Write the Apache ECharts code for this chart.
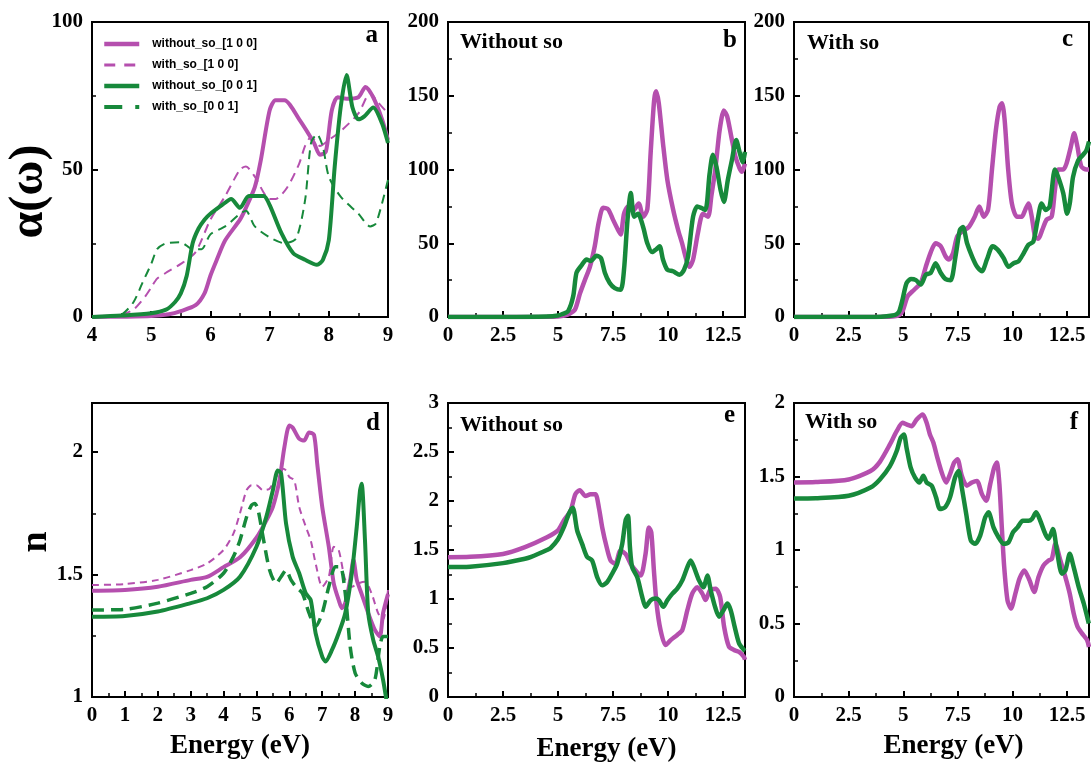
<!DOCTYPE html>
<html><head><meta charset="utf-8">
<script src="https://cdn.jsdelivr.net/npm/echarts@6/dist/echarts.min.js"></script>
<style>html,body{margin:0;padding:0;background:#fff}#c{width:1091px;height:764px}</style>
</head><body><div id="c"></div>
<script>
// ---------- Panel a : absorption 4-9 eV ----------
const a_wo100=[[4,0],[4.5,0.1],[5,0.3],[5.3,0.9],[5.5,2],[5.75,4],[5.9,8],[6.0,14],[6.1,19],[6.25,26],[6.5,33],[6.6,37],[6.75,44],[6.85,53],[7.0,70],[7.1,73.5],[7.25,73.5],[7.5,67],[7.75,59],[7.85,55],[7.95,56],[8.05,70],[8.15,74.5],[8.3,74],[8.5,74.5],[8.62,78],[8.75,74.5],[8.9,67],[9.0,60]];
const a_ws100=[[4,0],[4.3,0.2],[4.5,0.8],[4.7,2.5],[4.9,7],[5.0,10],[5.1,13],[5.25,15],[5.5,18],[5.75,22],[6.0,33],[6.25,41],[6.5,50],[6.6,51],[6.75,47.6],[7.0,40],[7.1,40],[7.3,44],[7.5,52],[7.6,58],[7.7,61],[7.85,58],[8.0,60],[8.2,63],[8.5,69],[8.7,76],[8.8,73.5],[9.0,69]];
const a_wo001=[[4,0],[4.5,0.5],[5,1.3],[5.25,2.5],[5.4,5],[5.5,8],[5.6,14],[5.7,25],[5.8,30],[5.9,33],[6.0,35],[6.2,38],[6.35,40],[6.5,37],[6.65,41],[6.9,41],[7.0,38],[7.2,28.4],[7.4,21.6],[7.6,19.4],[7.8,17.7],[7.9,19.4],[8.0,26],[8.1,51],[8.2,71],[8.3,82],[8.4,71],[8.5,67],[8.6,68],[8.75,71],[8.9,65.6],[9,59]];
const a_ws001=[[4,0],[4.3,0.2],[4.5,0.8],[4.7,5],[4.85,11.5],[5.0,18],[5.1,23],[5.25,25],[5.5,25.3],[5.7,23],[5.85,23],[6.0,28],[6.25,30.7],[6.5,35],[6.6,36],[6.75,30.7],[7.0,27],[7.25,25],[7.45,26.7],[7.6,39.7],[7.7,59],[7.8,62],[7.9,57.7],[8.0,47.6],[8.2,40.8],[8.5,35],[8.7,30.7],[8.8,31.8],[9.0,46.5]];
// ---------- Panel b : absorption without so ----------
const b_wo100=[[0,0],[2.5,0],[4.5,0.1],[5.0,0.3],[5.3,0.9],[5.5,2],[5.77,5],[6.0,16],[6.22,25],[6.45,34],[6.67,48],[6.85,64],[7.05,74],[7.28,73],[7.5,66],[7.73,59],[7.85,56],[8.0,70],[8.19,75],[8.41,72],[8.67,77],[8.87,68],[9.06,73],[9.21,111],[9.37,147],[9.46,153],[9.58,145],[9.77,118],[9.97,93],[10.23,73],[10.46,59],[10.64,50],[10.83,39],[10.98,34],[11.14,39],[11.36,57],[11.59,70],[11.82,68],[11.97,82],[12.15,100],[12.35,127],[12.54,140],[12.69,136],[12.88,122],[13.06,109],[13.25,101],[13.36,98.5],[13.5,104]];
const b_wo001=[[0,0],[2.5,0],[4.5,0.3],[5.0,1],[5.2,2],[5.46,4],[5.69,14],[5.84,30],[6.07,35],[6.3,39],[6.49,38],[6.75,41.5],[6.95,40],[7.13,30],[7.35,23],[7.58,19.6],[7.85,18.5],[8.0,32],[8.16,66],[8.31,84],[8.46,68],[8.64,70],[8.87,61],[9.06,50],[9.28,44],[9.47,46],[9.62,48],[9.77,39],[9.97,32],[10.23,31],[10.53,28.6],[10.73,32],[10.91,41],[11.14,68],[11.33,75],[11.51,74],[11.7,72.6],[11.89,97],[12.04,110],[12.2,102],[12.39,86],[12.54,78],[12.72,93],[12.9,106],[13.1,120],[13.25,112],[13.4,105],[13.5,112]];
// ---------- Panel c : absorption with so ----------
const c_ws100=[[0,0],[2.5,0],[4.0,0.1],[4.6,0.5],[4.82,1.5],[4.97,4],[5.2,14],[5.5,18.5],[5.8,23],[6.03,34],[6.26,44],[6.48,50],[6.71,48],[6.94,41],[7.09,39],[7.27,43],[7.47,54.6],[7.7,58],[8.0,61],[8.27,68],[8.48,75],[8.68,68],[8.88,72.6],[9.06,100],[9.24,127],[9.41,142.5],[9.52,145],[9.64,133.5],[9.79,102],[9.97,77],[10.2,68],[10.42,68],[10.58,72.6],[10.73,77],[10.88,68],[11.03,54.6],[11.18,53],[11.36,59],[11.56,66],[11.79,68],[11.94,86],[12.09,100],[12.32,100],[12.47,104],[12.67,115.5],[12.82,124.5],[12.97,115.5],[13.15,102],[13.38,100],[13.5,100]];
const c_ws001=[[0,0],[2.5,0],[4.0,0.2],[4.5,1],[4.7,2],[4.82,4],[4.97,12],[5.15,23],[5.35,25.7],[5.58,25],[5.8,22],[6.03,28.6],[6.26,30],[6.48,36.5],[6.71,30],[6.94,25.7],[7.17,25],[7.39,41],[7.59,59],[7.73,61],[7.92,50],[8.15,41],[8.38,34],[8.6,31],[8.83,39],[9.09,48],[9.33,45.5],[9.59,40],[9.82,34],[10.05,36.5],[10.27,37.7],[10.5,43],[10.73,49],[10.95,51],[11.15,66],[11.33,77],[11.52,72.6],[11.7,75],[11.94,100],[12.09,95],[12.32,84],[12.5,70],[12.62,77],[12.77,95],[13.0,106],[13.23,110],[13.38,113],[13.5,119]];
// ---------- Panel d : refractive index 0-9 eV ----------
const d_wo100=[[0,1.434],[1,1.437],[2,1.45],[3,1.478],[3.5,1.49],[4,1.53],[4.5,1.57],[5,1.65],[5.3,1.72],[5.5,1.776],[5.7,1.885],[5.85,2.02],[6.0,2.108],[6.1,2.10],[6.3,2.054],[6.45,2.047],[6.6,2.08],[6.75,2.07],[6.85,1.95],[7.0,1.776],[7.2,1.613],[7.35,1.464],[7.5,1.396],[7.6,1.362],[7.7,1.383],[7.85,1.478],[7.95,1.56],[8.05,1.478],[8.2,1.42],[8.4,1.342],[8.6,1.274],[8.75,1.247],[8.85,1.342],[9,1.42]];
const d_ws100=[[0,1.457],[1,1.461],[2,1.478],[3,1.518],[3.5,1.545],[4,1.60],[4.3,1.667],[4.5,1.75],[4.7,1.844],[4.85,1.864],[5.0,1.864],[5.2,1.844],[5.4,1.85],[5.6,1.898],[5.8,1.932],[5.9,1.925],[6.0,1.898],[6.15,1.885],[6.3,1.776],[6.5,1.695],[6.65,1.64],[6.8,1.545],[7.0,1.45],[7.2,1.49],[7.35,1.613],[7.5,1.60],[7.7,1.478],[7.9,1.45],[8.1,1.464],[8.3,1.47],[8.5,1.423],[8.7,1.342],[8.85,1.315],[9.0,1.437]];
const d_wo001=[[0,1.328],[1,1.331],[2,1.349],[3,1.383],[3.5,1.403],[4,1.437],[4.5,1.491],[5,1.613],[5.3,1.735],[5.5,1.844],[5.65,1.925],[5.75,1.912],[5.9,1.708],[6.1,1.573],[6.3,1.505],[6.5,1.423],[6.65,1.396],[6.8,1.26],[7.0,1.165],[7.1,1.145],[7.3,1.193],[7.5,1.26],[7.7,1.342],[7.9,1.505],[8.05,1.695],[8.15,1.844],[8.2,1.87],[8.3,1.64],[8.4,1.342],[8.55,1.233],[8.7,1.165],[8.85,1.07],[8.95,0.99]];
const d_ws001=[[0,1.355],[1,1.358],[2,1.383],[3,1.423],[3.5,1.45],[4,1.505],[4.3,1.573],[4.5,1.64],[4.7,1.735],[4.85,1.783],[4.95,1.79],[5.05,1.763],[5.2,1.654],[5.4,1.518],[5.6,1.464],[5.75,1.491],[5.9,1.518],[6.05,1.478],[6.2,1.45],[6.4,1.423],[6.6,1.342],[6.8,1.288],[7.0,1.342],[7.2,1.45],[7.4,1.532],[7.55,1.532],[7.7,1.423],[7.85,1.206],[8.0,1.098],[8.2,1.057],[8.4,1.043],[8.6,1.07],[8.75,1.206],[8.85,1.247],[9.0,1.247]];
// ---------- Panel e : refractive index without so ----------
const e_wo100=[[0,1.427],[1,1.43],[2.5,1.46],[3.5,1.53],[4.5,1.63],[5,1.70],[5.26,1.80],[5.57,1.90],[5.79,2.07],[5.99,2.11],[6.25,2.05],[6.48,2.07],[6.7,2.07],[6.86,1.93],[7.01,1.73],[7.21,1.53],[7.39,1.393],[7.61,1.36],[7.84,1.495],[8.07,1.46],[8.3,1.36],[8.53,1.29],[8.76,1.24],[8.98,1.46],[9.13,1.73],[9.24,1.68],[9.36,1.29],[9.48,0.954],[9.66,0.683],[9.89,0.53],[10.12,0.58],[10.42,0.633],[10.65,0.683],[10.88,0.886],[11.1,1.055],[11.33,1.12],[11.56,1.055],[11.71,0.99],[11.91,1.09],[12.17,1.105],[12.37,1.02],[12.55,0.717],[12.77,0.514],[13.0,0.48],[13.23,0.46],[13.45,0.41],[13.5,0.38]];
const e_wo001=[[0,1.326],[1,1.33],[2.5,1.366],[3.5,1.41],[3.75,1.427],[4.5,1.5],[4.66,1.52],[5.0,1.61],[5.26,1.73],[5.49,1.867],[5.67,1.93],[5.87,1.70],[6.1,1.56],[6.32,1.43],[6.55,1.393],[6.78,1.224],[7.01,1.14],[7.24,1.174],[7.46,1.258],[7.69,1.36],[7.92,1.563],[8.07,1.80],[8.18,1.85],[8.27,1.528],[8.37,1.325],[8.6,1.224],[8.83,1.02],[8.98,0.92],[9.21,0.987],[9.44,1.004],[9.59,0.987],[9.79,0.92],[9.97,0.987],[10.2,1.055],[10.42,1.105],[10.65,1.19],[10.88,1.325],[11.03,1.393],[11.18,1.325],[11.41,1.19],[11.61,1.12],[11.79,1.24],[11.94,1.09],[12.14,0.92],[12.32,0.82],[12.52,0.886],[12.7,0.954],[12.85,0.886],[13.03,0.717],[13.23,0.548],[13.45,0.48],[13.5,0.47]];
// ---------- Panel f : refractive index with so ----------
const f_ws100=[[0,1.459],[1,1.462],[2.5,1.48],[3.5,1.537],[3.93,1.6],[4.39,1.718],[4.7,1.808],[4.97,1.865],[5.15,1.854],[5.38,1.842],[5.61,1.887],[5.89,1.921],[6.07,1.865],[6.22,1.786],[6.38,1.73],[6.56,1.628],[6.76,1.527],[6.96,1.459],[7.14,1.516],[7.33,1.595],[7.48,1.617],[7.68,1.505],[7.91,1.437],[8.14,1.459],[8.37,1.47],[8.6,1.38],[8.8,1.335],[8.98,1.448],[9.16,1.56],[9.28,1.595],[9.4,1.448],[9.51,1.154],[9.62,0.883],[9.77,0.658],[9.93,0.602],[10.13,0.703],[10.32,0.805],[10.54,0.861],[10.78,0.793],[10.99,0.714],[11.19,0.816],[11.42,0.895],[11.65,0.929],[11.8,0.94],[11.96,1.042],[12.19,0.929],[12.42,0.816],[12.62,0.703],[12.8,0.568],[12.98,0.477],[13.18,0.433],[13.41,0.388],[13.5,0.34]];
const f_ws001=[[0,1.35],[1,1.352],[2.5,1.369],[3.5,1.425],[3.93,1.48],[4.39,1.571],[4.7,1.673],[4.88,1.763],[5.03,1.786],[5.15,1.696],[5.34,1.56],[5.54,1.493],[5.74,1.459],[5.92,1.505],[6.07,1.459],[6.3,1.437],[6.5,1.358],[6.68,1.279],[6.91,1.29],[7.14,1.358],[7.37,1.493],[7.53,1.538],[7.68,1.425],[7.88,1.245],[8.09,1.065],[8.29,1.042],[8.52,1.098],[8.75,1.222],[8.9,1.256],[9.13,1.154],[9.36,1.087],[9.59,1.042],[9.82,1.053],[10.02,1.12],[10.23,1.154],[10.47,1.199],[10.73,1.199],[10.89,1.211],[11.08,1.256],[11.27,1.199],[11.5,1.109],[11.65,1.076],[11.85,1.143],[12.03,0.997],[12.26,0.839],[12.42,0.861],[12.62,0.974],[12.8,0.883],[13.03,0.748],[13.26,0.636],[13.49,0.5]];

const legendNames=['without_so_[1 0 0]','with_so_[1 0 0]','without_so_[0 0 1]','with_so_[0 0 1]'];
const panelLetters=['a','b','c','d','e','f'];
const panelTitles=['','Without so','With so','','Without so','With so'];

const MAG='#B54FAE', GRN='#17893B';
const SERIF="'Liberation Serif','Times New Roman',serif";
const SANS="'Liberation Sans',Arial,sans-serif";

const chart=echarts.init(document.getElementById('c'),null,{renderer:'canvas'});

const gridBoxes=[
 {left:92,top:22,width:296,height:295},
 {left:448,top:22,width:297,height:295},
 {left:794,top:22,width:295,height:295},
 {left:92,top:403,width:296,height:294},
 {left:448,top:403,width:297,height:294},
 {left:794,top:403,width:295,height:294}
];
const grids=gridBoxes.map(g=>Object.assign({show:true,borderColor:'#000',borderWidth:2,backgroundColor:'transparent',containLabel:false,outerBoundsMode:'none'},g));

function axisCommon(i,min,max,interval,showMax){
  return {type:'value',gridIndex:i,min:min,max:max,interval:interval,nameMoveOverlap:false,
    axisLine:{show:true,onZero:false,lineStyle:{color:'#000',width:2}},
    axisTick:{show:true,inside:true,length:6,lineStyle:{color:'#000',width:2}},
    minorTick:{show:true,splitNumber:2,length:4,lineStyle:{color:'#000',width:1.5}},
    splitLine:{show:false},minorSplitLine:{show:false},
    axisLabel:{color:'#000',fontFamily:SERIF,fontWeight:'bold',fontSize:21,margin:8,showMaxLabel:showMax,showMinLabel:true}
  };
}
const xAxes=[
  axisCommon(0,4,9,1,true),
  axisCommon(1,0,13.5,2.5,false),
  axisCommon(2,0,13.5,2.5,false),
  axisCommon(3,0,9,1,true),
  axisCommon(4,0,13.5,2.5,false),
  axisCommon(5,0,13.5,2.5,false)
];
const yAxes=[
  axisCommon(0,0,100,50,true),
  axisCommon(1,0,200,50,true),
  axisCommon(2,0,200,50,true),
  axisCommon(3,1,2.2,0.5,false),
  axisCommon(4,0,3,0.5,true),
  axisCommon(5,0,2,0.5,true)
];
yAxes.forEach(a=>{a.axisLabel.margin=9;});
const nameStyle={color:'#000',fontFamily:SERIF,fontWeight:'bold',fontSize:27};
[[3,0,36],[4,20,39],[5,24,36]].forEach(([i,pl,gap])=>{
  Object.assign(xAxes[i],{name:'Energy (eV)',nameLocation:'middle',nameGap:gap,
    nameTextStyle:Object.assign({},nameStyle,{padding:[0,0,0,pl]})});
});
Object.assign(yAxes[0],{name:'α(ω)',nameLocation:'middle',nameGap:38,
  nameTextStyle:Object.assign({},nameStyle,{fontSize:48,padding:[0,44,0,0]})});
Object.assign(yAxes[3],{name:'n',nameLocation:'middle',nameGap:37,
  nameTextStyle:Object.assign({},nameStyle,{fontSize:38,padding:[0,0,0,16]})});

function line(name,data,gi,color,width,type){
  return {type:'line',name:name,data:data,xAxisIndex:gi,yAxisIndex:gi,
    symbol:'none',smooth:0.25,clip:true,z:3,
    lineStyle:{color:color,width:width,type:type||'solid'},itemStyle:{color:color}};
}
const series=[
  line(legendNames[0],a_wo100,0,MAG,4),
  line(legendNames[1],a_ws100,0,MAG,2,[9,6]),
  line(legendNames[2],a_wo001,0,GRN,4),
  line(legendNames[3],a_ws001,0,GRN,2,[9,6]),
  line(legendNames[0],b_wo100,1,MAG,4.5),
  line(legendNames[2],b_wo001,1,GRN,4.5),
  line(legendNames[1],c_ws100,2,MAG,4.5),
  line(legendNames[3],c_ws001,2,GRN,4.5),
  line(legendNames[0],d_wo100,3,MAG,4),
  line(legendNames[1],d_ws100,3,MAG,2,[7,5]),
  line(legendNames[2],d_wo001,3,GRN,4),
  line(legendNames[3],d_ws001,3,GRN,3.5,[12,7]),
  line(legendNames[0],e_wo100,4,MAG,4.5),
  line(legendNames[2],e_wo001,4,GRN,4.5),
  line(legendNames[1],f_ws100,5,MAG,4.5),
  line(legendNames[3],f_ws001,5,GRN,4.5)
];

const graphics=[];
const letterPos=[[378,36],[737,41],[1073,40],[380,424],[735,416],[1078,423]];
panelLetters.forEach((t,i)=>{
  graphics.push({type:'text',x:letterPos[i][0],y:letterPos[i][1],z:10,
    style:{text:t,fill:'#000',font:'bold 25px '+SERIF,textAlign:'right',textVerticalAlign:'middle'}});
});
const titlePos=[null,[460,42],[807,43],null,[460,425],[805,422]];
panelTitles.forEach((t,i)=>{
  if(!t) return;
  graphics.push({type:'text',x:titlePos[i][0],y:titlePos[i][1],z:10,
    style:{text:t,fill:'#000',font:'bold 22px '+SERIF,textAlign:'left',textVerticalAlign:'middle'}});
});

const hidden={color:'rgba(0,0,0,0)',borderWidth:0,opacity:0};
chart.setOption({
  animation:false,
  backgroundColor:'#fff',
  grid:grids,
  xAxis:xAxes,
  yAxis:yAxes,
  legend:{left:102,top:38,padding:0,orient:'vertical',itemWidth:35,itemHeight:14,itemGap:9,selectedMode:false,
    itemStyle:hidden,
    textStyle:{fontFamily:SANS,fontWeight:'bold',fontSize:12,color:'#000',padding:[0,0,0,8]},
    data:[
      {name:legendNames[0],itemStyle:hidden,lineStyle:{width:4.5}},
      {name:legendNames[1],itemStyle:hidden,lineStyle:{width:3,type:[11,9]}},
      {name:legendNames[2],itemStyle:hidden,lineStyle:{width:4.5}},
      {name:legendNames[3],itemStyle:hidden,lineStyle:{width:4,type:[18,13,4,100]}}
    ]},
  graphic:graphics,
  series:series
});
</script></body></html>
